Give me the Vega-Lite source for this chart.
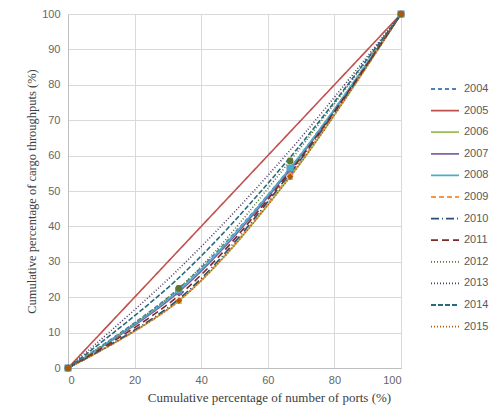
{
  "$schema": "https://vega.github.io/schema/vega-lite/v6.json",
  "width": 333,
  "height": 354,
  "autosize": {"type": "none"},
  "padding": {"left": 68, "top": 14, "right": 94, "bottom": 46},
  "background": "white",
  "config": {
    "view": {"stroke": null},
    "axis": {"gridColor": "#d9d9d9", "domainColor": "#bfbfbf", "ticks": false, "labelColor": "#666666", "labelFont": "Liberation Sans", "labelFontSize": 11, "titleFont": "Liberation Serif", "titleFontSize": 13, "titleFontWeight": "normal", "titleColor": "#404040"}
  },
  "data": {"values": [
    {"year": "2004", "x": 0, "y": 0}, {"year": "2004", "x": 33.3, "y": 22.5}, {"year": "2004", "x": 66.7, "y": 56.5}, {"year": "2004", "x": 100, "y": 100},
    {"year": "2005", "x": 0, "y": 0}, {"year": "2005", "x": 33.3, "y": 33.3}, {"year": "2005", "x": 66.7, "y": 66.7}, {"year": "2005", "x": 100, "y": 100},
    {"year": "2006", "x": 0, "y": 0}, {"year": "2006", "x": 33.3, "y": 19}, {"year": "2006", "x": 66.7, "y": 54}, {"year": "2006", "x": 100, "y": 100},
    {"year": "2007", "x": 0, "y": 0}, {"year": "2007", "x": 33.3, "y": 21.5}, {"year": "2007", "x": 66.7, "y": 56}, {"year": "2007", "x": 100, "y": 100},
    {"year": "2008", "x": 0, "y": 0}, {"year": "2008", "x": 33.3, "y": 22}, {"year": "2008", "x": 66.7, "y": 56.5}, {"year": "2008", "x": 100, "y": 100},
    {"year": "2009", "x": 0, "y": 0}, {"year": "2009", "x": 33.3, "y": 19}, {"year": "2009", "x": 66.7, "y": 54.5}, {"year": "2009", "x": 100, "y": 100},
    {"year": "2010", "x": 0, "y": 0}, {"year": "2010", "x": 33.3, "y": 19.5}, {"year": "2010", "x": 66.7, "y": 55}, {"year": "2010", "x": 100, "y": 100},
    {"year": "2011", "x": 0, "y": 0}, {"year": "2011", "x": 33.3, "y": 20.5}, {"year": "2011", "x": 66.7, "y": 55.5}, {"year": "2011", "x": 100, "y": 100},
    {"year": "2012", "x": 0, "y": 0}, {"year": "2012", "x": 33.3, "y": 22.5}, {"year": "2012", "x": 66.7, "y": 58.5}, {"year": "2012", "x": 100, "y": 100},
    {"year": "2013", "x": 0, "y": 0}, {"year": "2013", "x": 33.3, "y": 28}, {"year": "2013", "x": 66.7, "y": 61.5}, {"year": "2013", "x": 100, "y": 100},
    {"year": "2014", "x": 0, "y": 0}, {"year": "2014", "x": 33.3, "y": 25.5}, {"year": "2014", "x": 66.7, "y": 59.5}, {"year": "2014", "x": 100, "y": 100},
    {"year": "2015", "x": 0, "y": 0}, {"year": "2015", "x": 33.3, "y": 19}, {"year": "2015", "x": 66.7, "y": 54}, {"year": "2015", "x": 100, "y": 100}
  ]},
  "encoding": {
    "x": {"field": "x", "type": "quantitative", "scale": {"domain": [0, 100], "nice": false}, "axis": {"values": [0, 20, 40, 60, 80, 100], "title": "Cumulative percentage of number of ports (%)", "labelPadding": 6, "titlePadding": 6, "titleX": 201}},
    "y": {"field": "y", "type": "quantitative", "scale": {"domain": [0, 100], "nice": false}, "axis": {"values": [0, 10, 20, 30, 40, 50, 60, 70, 80, 90, 100], "title": "Cumulative percentage of cargo throughputs (%)", "labelPadding": 8, "titlePadding": 3, "titleFontSize": 12.5}},
    "color": {"field": "year", "type": "nominal", "title": null,
      "scale": {"domain": ["2004","2005","2006","2007","2008","2009","2010","2011","2012","2013","2014","2015"],
        "range": ["#4F81BD","#C0504D","#9BBB59","#8064A2","#4BACC6","#F79646","#2C4D75","#772C2A","#5F7530","#4D3B62","#276A7C","#B65708"]},
      "legend": {"orient": "none", "legendX": 362, "legendY": 69, "symbolType": "stroke", "symbolSize": 784, "symbolStrokeWidth": 1.8, "clipHeight": 12, "rowPadding": 9.6, "labelOffset": 4, "labelFont": "Liberation Sans", "labelFontSize": 11, "labelColor": "#595959", "padding": 0}}
  },
  "layer": [
    {
      "mark": {"type": "line", "interpolate": "catmull-rom", "strokeWidth": 1.6},
      "encoding": {
        "strokeDash": {"field": "year", "type": "nominal", "title": null,
          "scale": {"domain": ["2004","2005","2006","2007","2008","2009","2010","2011","2012","2013","2014","2015"],
            "range": [[4,3],[1,0],[1,0],[1,0],[1,0],[5,3],[8,3,1,3],[7,4],[1,2],[1,2],[5,2],[1,2]]}}
      }
    },
    {
      "transform": [{"filter": {"field": "year", "oneOf": ["2004","2006","2007","2008","2009","2012","2015"]}}],
      "mark": {"type": "point", "filled": true, "size": 45, "opacity": 1},
      "encoding": {
        "shape": {"field": "year", "type": "nominal", "legend": null,
          "scale": {"domain": ["2004","2006","2007","2008","2009","2012","2015"],
            "range": ["circle","triangle-up","square","square","diamond","circle","diamond"]}}
      }
    }
  ]
}
